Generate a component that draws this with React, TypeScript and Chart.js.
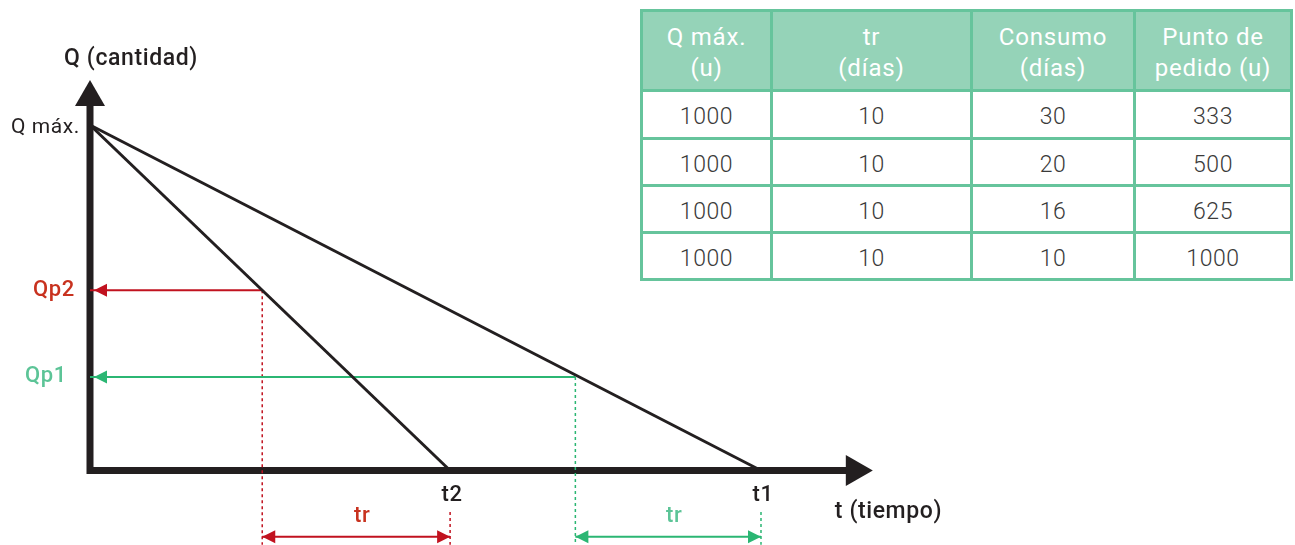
import React, { useEffect, useRef } from 'react';
import { Chart, registerables } from 'chart.js';

Chart.register(...registerables);

// ---- diagram data (t in days-like units, Q in units) ----
const Q_MAX = 1000;
const CYCLE_LABELS = ['t1', 't2'];
const CYCLE_END = [30, 16.1];
const REORDER_LABELS = ['Qp1', 'Qp2'];
const REORDER_Q = [271, 522];
const REORDER_T = [21.7, 7.7];
const TR_LEVEL = -192;
const DASH_TOP = -120;
const DROP_BOTTOM = -215;
const AXIS_T_END = 35;
const AXIS_Q_END = 1130;

const LINE_COLORS = ['#2bb673', '#c1121f'];
const TEXT_COLORS = ['#5cc497', '#c8321f'];
const AXIS_COLOR = '#231f20';

// ---- table data ----
const TABLE_HEADERS = [
  ['Q máx.', '(u)'],
  ['tr', '(días)'],
  ['Consumo', '(días)'],
  ['Punto de', 'pedido (u)'],
];
const COL_QMAX = [1000, 1000, 1000, 1000];
const COL_TR = [10, 10, 10, 10];
const COL_CONSUMO = [30, 20, 16, 10];
const COL_PUNTO = [333, 500, 625, 1000];

const FONT = 'Roboto, "Noto Sans", sans-serif';

function head(ctx: CanvasRenderingContext2D, tx: number, ty: number, fx: number, fy: number, len: number, hw: number) {
  const a = Math.atan2(ty - fy, tx - fx);
  const bx = tx - Math.cos(a) * len;
  const by = ty - Math.sin(a) * len;
  ctx.beginPath();
  ctx.moveTo(tx, ty);
  ctx.lineTo(bx + Math.sin(a) * hw, by - Math.cos(a) * hw);
  ctx.lineTo(bx - Math.sin(a) * hw, by + Math.cos(a) * hw);
  ctx.closePath();
  ctx.fill();
}

export default function App() {
  const ref = useRef<HTMLCanvasElement>(null);

  useEffect(() => {
    const canvas = ref.current!;
    const datasets: any[] = [];
    const base = { showLine: true, pointRadius: 0, pointHoverRadius: 0, tension: 0, fill: false };

    for (let i = 0; i < CYCLE_END.length; i++) {
      datasets.push({
        ...base,
        data: [{ x: 0, y: Q_MAX }, { x: CYCLE_END[i], y: 0 }],
        borderColor: AXIS_COLOR,
        borderWidth: 3,
      });
    }
    for (let i = 0; i < REORDER_Q.length; i++) {
      const c = LINE_COLORS[i];
      datasets.push({
        ...base,
        data: [{ x: REORDER_T[i], y: REORDER_Q[i] }, { x: 0, y: REORDER_Q[i] }],
        borderColor: c,
        borderWidth: 2,
        arrowEnd: true,
        arrowInset: 4,
      });
      datasets.push({
        ...base,
        data: [{ x: REORDER_T[i], y: REORDER_Q[i] }, { x: REORDER_T[i], y: DROP_BOTTOM }],
        borderColor: c,
        borderWidth: 1.5,
        borderDash: [3, 3],
      });
      datasets.push({
        ...base,
        data: [{ x: CYCLE_END[i], y: DASH_TOP }, { x: CYCLE_END[i], y: DROP_BOTTOM }],
        borderColor: c,
        borderWidth: 1.5,
        borderDash: [3, 3],
      });
      datasets.push({
        ...base,
        data: [{ x: REORDER_T[i], y: TR_LEVEL }, { x: CYCLE_END[i], y: TR_LEVEL }],
        borderColor: c,
        borderWidth: 2,
        arrowEnd: true,
        arrowStart: true,
      });
    }

    const axesPlugin = {
      id: 'arrowAxes',
      beforeDatasetsDraw(chart: any) {
        const { ctx, scales } = chart;
        const ox = scales.x.getPixelForValue(0);
        const oy = scales.y.getPixelForValue(0);
        const tx = scales.x.getPixelForValue(AXIS_T_END);
        const ty = scales.y.getPixelForValue(AXIS_Q_END);
        ctx.save();
        ctx.strokeStyle = AXIS_COLOR;
        ctx.fillStyle = AXIS_COLOR;
        ctx.lineWidth = 7;
        ctx.lineJoin = 'miter';
        ctx.lineCap = 'butt';
        ctx.beginPath();
        ctx.moveTo(ox, ty + 20);
        ctx.lineTo(ox, oy);
        ctx.lineTo(tx - 20, oy);
        ctx.stroke();
        head(ctx, ox, ty, ox, oy, 26, 15);
        head(ctx, tx, oy, ox, oy, 27, 15.5);
        ctx.restore();
      },
    };

    const arrowPlugin = {
      id: 'lineArrows',
      afterDatasetsDraw(chart: any) {
        const { ctx } = chart;
        chart.data.datasets.forEach((ds: any, i: number) => {
          if (!ds.arrowEnd && !ds.arrowStart) return;
          const pts = chart.getDatasetMeta(i).data;
          const p0 = pts[0], p1 = pts[pts.length - 1];
          ctx.save();
          ctx.fillStyle = ds.borderColor;
          const inset = ds.arrowInset || 0;
          if (ds.arrowEnd) {
            const a = Math.atan2(p1.y - p0.y, p1.x - p0.x);
            head(ctx, p1.x - Math.cos(a) * inset, p1.y - Math.sin(a) * inset, p0.x, p0.y, 13, 6.5);
          }
          if (ds.arrowStart) {
            head(ctx, p0.x, p0.y, p1.x, p1.y, 13, 6.5);
          }
          ctx.restore();
        });
      },
    };

    const labelPlugin = {
      id: 'diagramLabels',
      afterDatasetsDraw(chart: any) {
        const { ctx, scales } = chart;
        const X = (v: number) => scales.x.getPixelForValue(v);
        const Y = (v: number) => scales.y.getPixelForValue(v);
        const ox = X(0), oy = Y(0);
        ctx.save();
        ctx.textBaseline = 'middle';
        (ctx as any).letterSpacing = '0.6px';

        ctx.fillStyle = AXIS_COLOR;
        ctx.font = `500 23px ${FONT}`;
        ctx.textAlign = 'center';
        ctx.fillText('Q (cantidad)', ox + 41, Y(AXIS_Q_END) - 21);
        ctx.textAlign = 'left';
        ctx.fillText('t (tiempo)', X(AXIS_T_END) - 38, oy + 42);

        ctx.font = `400 21px ${FONT}`;
        ctx.textAlign = 'right';
        ctx.fillText('Q máx.', ox - 10, Y(Q_MAX) + 3);

        ctx.font = `500 22px ${FONT}`;
        ctx.textAlign = 'center';
        for (let i = 0; i < CYCLE_END.length; i++) {
          ctx.fillStyle = AXIS_COLOR;
          ctx.fillText(CYCLE_LABELS[i], X(CYCLE_END[i]) + 2, oy + 25);
        }
        for (let i = 0; i < REORDER_Q.length; i++) {
          ctx.fillStyle = TEXT_COLORS[i];
          ctx.textAlign = 'center';
          ctx.fillText('tr', (X(REORDER_T[i]) + X(CYCLE_END[i])) / 2 + 6, Y(TR_LEVEL) - 20);
          ctx.fillText(REORDER_LABELS[i], ox - (i === 0 ? 44 : 36), Y(REORDER_Q[i]));
        }
        ctx.restore();
      },
    };

    const chart = new Chart(canvas, {
      type: 'scatter',
      data: { datasets },
      options: {
        animation: false,
        responsive: false,
        devicePixelRatio: 1,
        events: [],
        layout: { padding: 0 },
        plugins: { legend: { display: false }, tooltip: { enabled: false }, title: { display: false } },
        scales: {
          x: { type: 'linear', min: -4.024, max: 53.875, display: false },
          y: { type: 'linear', min: -215.6, max: 1361.8, display: false },
        },
      } as any,
      plugins: [axesPlugin, arrowPlugin, labelPlugin],
    });

    let alive = true;
    if ((document as any).fonts) {
      (document as any).fonts.load(`500 22px Roboto`).then(() => {
        if (alive) chart.draw();
      }).catch(() => {});
    }
    return () => {
      alive = false;
      chart.destroy();
    };
  }, []);

  const rows = COL_QMAX.map((q, i) => [q, COL_TR[i], COL_CONSUMO[i], COL_PUNTO[i]]);
  const cell: React.CSSProperties = {
    background: '#ffffff',
    display: 'flex',
    alignItems: 'center',
    justifyContent: 'center',
    color: '#3a3a3a',
    fontWeight: 300,
    fontSize: 23,
    letterSpacing: '0.6px',
    paddingTop: 4,
    boxSizing: 'border-box',
  };
  const hcell: React.CSSProperties = {
    background: '#95d3b8',
    display: 'flex',
    flexDirection: 'column',
    alignItems: 'center',
    justifyContent: 'center',
    color: '#ffffff',
    fontWeight: 400,
    fontSize: 24,
    lineHeight: '31px',
    letterSpacing: '0.8px',
    paddingTop: 5,
    boxSizing: 'border-box',
  };

  return (
    <div style={{ position: 'absolute', left: 0, top: 0, width: 1295, height: 545, background: '#fff', fontFamily: FONT }}>
      <canvas ref={ref} width={1295} height={545} style={{ position: 'absolute', left: 0, top: 0, width: 1295, height: 545 }} />
      <div
        style={{
          position: 'absolute',
          left: 640,
          top: 9,
          display: 'grid',
          gridTemplateColumns: '127px 197px 160px 154px',
          gridTemplateRows: '77px 45px 44px 44px 44px',
          gap: 3,
          padding: 3,
          background: '#66c49c',
        }}
      >
        {TABLE_HEADERS.map((h, i) => (
          <div key={'h' + i} style={hcell}>
            <span>{h[0]}</span>
            <span>{h[1]}</span>
          </div>
        ))}
        {rows.map((r, i) =>
          r.map((v, j) => (
            <div key={i + '-' + j} style={cell}>
              {v}
            </div>
          ))
        )}
      </div>
    </div>
  );
}
